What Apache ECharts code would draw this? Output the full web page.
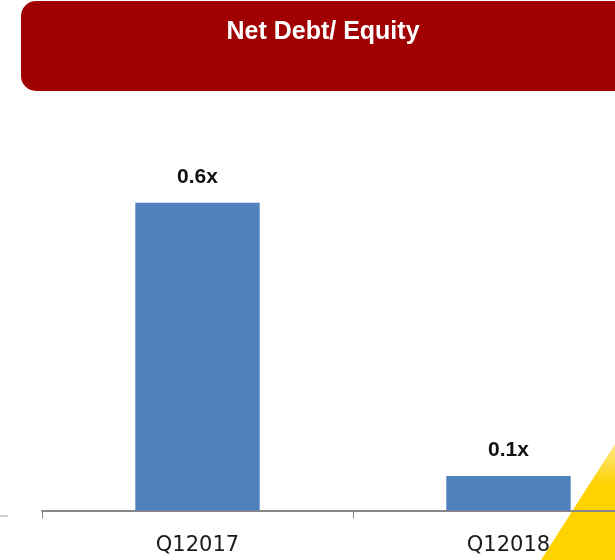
<!DOCTYPE html>
<html>
<head>
<meta charset="utf-8">
<title>Net Debt/ Equity</title>
<script src="https://cdn.jsdelivr.net/npm/echarts@6/dist/echarts.min.js"></script>
<style>
  html, body { margin: 0; padding: 0; background: #fff; }
  #chart { width: 615px; height: 560px; }
</style>
</head>
<body>
<div id="chart"></div>
<script>
// data
var title = "Net Debt/ Equity";
var quarters = ["Q12017", "Q12018"];
var netDebtEquity = [0.6, 0.067];

var chart = echarts.init(document.getElementById("chart"));

chart.setOption({
  animation: false,
  graphic: [
    // red header banner
    {
      type: "rect",
      shape: { x: 21, y: 1, width: 640, height: 90, r: 15 },
      style: { fill: "#a00000" }
    },
    {
      type: "text",
      x: 323,
      y: 32,
      style: {
        text: title,
        fill: "#fff",
        font: "bold 25px 'Liberation Sans'",
        align: "center",
        verticalAlign: "middle"
      }
    },
    // yellow corner decoration (sits under the axis)
    {
      type: "polygon",
      shape: { points: [[541, 560], [615, 444], [615, 560]] },
      style: {
        fill: {
          type: "linear", x: 0, y: 0, x2: 0, y2: 1,
          colorStops: [
            { offset: 0, color: "#ffe98a" },
            { offset: 0.35, color: "#ffd200" },
            { offset: 1, color: "#ffd400" }
          ]
        }
      }
    },
    // little grey dash on the left
    {
      type: "line",
      shape: { x1: 0, y1: 516, x2: 8, y2: 516 },
      style: { stroke: "#a0a0a0", lineWidth: 1 }
    }
  ],
  grid: {
    left: 42, width: 622, top: 100, bottom: 49.5,
    outerBoundsMode: "none"
  },
  xAxis: {
    type: "category",
    z: 20,
    data: quarters,
    axisLine: { lineStyle: { color: "#878787", width: 2 } },
    axisTick: { show: true, length: 8, lineStyle: { color: "#878787", width: 1 } },
    axisLabel: {
      color: "#1a1a1a",
      fontSize: 21,
      fontFamily: "DejaVu Sans",
      margin: 25
    }
  },
  yAxis: {
    type: "value",
    min: 0,
    max: 0.8,
    show: false
  },
  series: [
    {
      type: "bar",
      z: 20,
      data: netDebtEquity,
      barWidth: "40%",
      itemStyle: { color: "#4f81bd" },
      label: {
        show: true,
        position: "top",
        distance: 15,
        color: "#111",
        fontWeight: "bold",
        fontSize: 21,
        fontFamily: "Liberation Sans",
        formatter: function (p) { return p.value.toFixed(1) + "x"; }
      }
    }
  ]
});
</script>
</body>
</html>
